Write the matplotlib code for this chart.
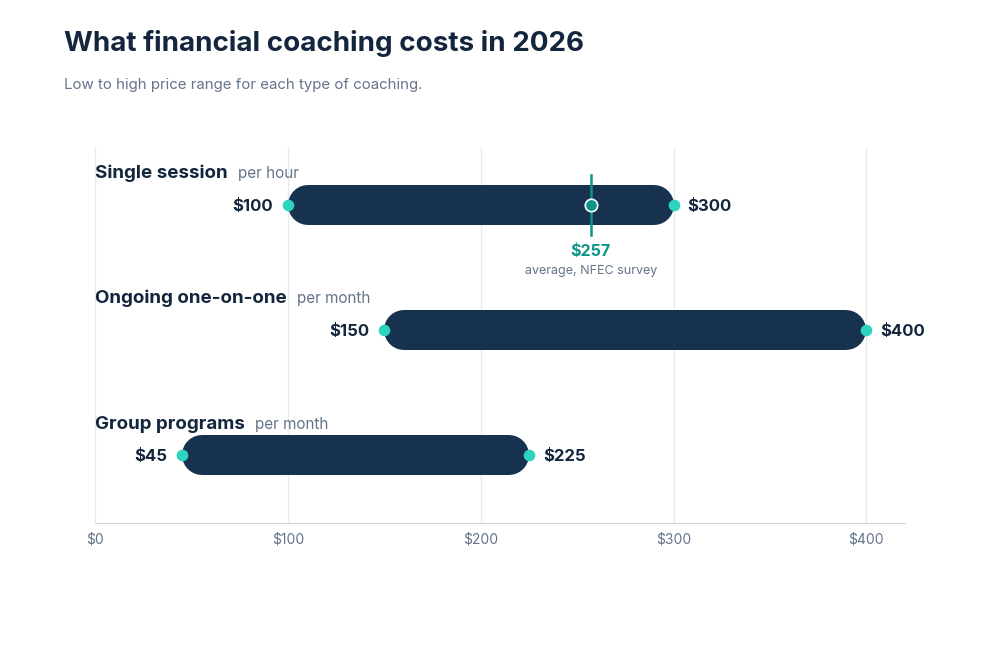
import matplotlib.pyplot as plt

plt.rcParams['font.family'] = ['Inter', 'DejaVu Sans']

categories = ['Single session', 'Ongoing one-on-one', 'Group programs']
units = ['per hour', 'per month', 'per month']
low = [100, 150, 45]
high = [300, 400, 225]
avg_value = 257
avg_note = 'average, NFEC survey'
ticks = [0, 100, 200, 300, 400]
tick_labels = ['$0', '$100', '$200', '$300', '$400']

navy = '#16324f'
ink = '#13263d'
grey = '#64748b'
teal = '#2dd4bf'
teal_dark = '#0d9488'

fig = plt.figure(figsize=(10, 6.66), dpi=100)
ax = fig.add_axes([0.095, 0.2147, 0.81, 0.5646])
ax.set_xlim(0, 420)
ax.set_ylim(2.544, -0.464)

# px per data unit, used to pull the round caps inside the range
px_per_x = 810 / 420
bar_px = 40
cap = (bar_px / 2) / px_per_x

for x in ticks:
    ax.axvline(x, color='#e5ebf1', lw=1, zorder=0)

for i, cat in enumerate(categories):
    ax.plot([low[i] + cap, high[i] - cap], [i, i], color=navy, lw=bar_px * 0.72,
            solid_capstyle='round', zorder=2)
    ax.scatter([low[i], high[i]], [i, i], s=70, color=teal, zorder=4, linewidths=0)
    ax.annotate(f'${low[i]}', (low[i], i + 0.012), xytext=(-10.5, 0), textcoords='offset points',
                ha='right', va='center', fontsize=12, fontweight='bold', color=ink)
    ax.annotate(f'${high[i]}', (high[i], i + 0.012), xytext=(10, 0), textcoords='offset points',
                ha='left', va='center', fontsize=12, fontweight='bold', color=ink)
    t = ax.annotate(cat, (0, i - 0.212), ha='left', va='baseline', fontsize=13.5,
                    fontweight='bold', color=ink)
    fig.canvas.draw()
    w = t.get_window_extent().width
    ax.annotate(units[i], (0, i - 0.212), xytext=((w + 10) * 0.72, 0),
                textcoords='offset points', ha='left', va='baseline', fontsize=11, color=grey)

# average marker on the first row
ax.plot([avg_value, avg_value], [-0.24, 0.24], color=teal_dark, lw=1.8, zorder=5)
ax.scatter([avg_value], [0], s=80, color=teal_dark, edgecolor='white', linewidths=1.2, zorder=6)
ax.text(avg_value, 0.375, f'${avg_value}', ha='center', va='center', fontsize=11.5,
        fontweight='bold', color=teal_dark)
ax.text(avg_value, 0.525, avg_note, ha='center', va='center', fontsize=9, color=grey)

for s in ['top', 'right', 'left']:
    ax.spines[s].set_visible(False)
ax.spines['bottom'].set_color('#cbd5e1')
ax.set_yticks([])
ax.set_xticks(ticks)
ax.set_xticklabels(tick_labels, fontsize=10, color=grey)
ax.tick_params(axis='x', length=0, pad=7)

fig.text(0.064, 0.934, 'What financial coaching costs in 2026', fontsize=20,
         fontweight='bold', color=ink, va='center')
fig.text(0.064, 0.872, 'Low to high price range for each type of coaching.', fontsize=10.8,
         color=grey, va='center')

fig.savefig('out.png', dpi=100)
